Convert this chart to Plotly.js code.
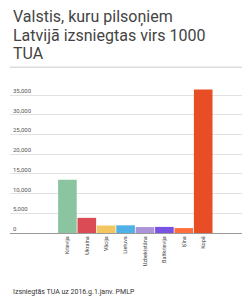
<!DOCTYPE html>
<html>
<head>
<meta charset="utf-8">
<script src="https://cdn.plot.ly/plotly-3.0.1.min.js"></script>
<style>
  html, body { margin: 0; padding: 0; background: #fff; }
  #chart { width: 250px; height: 300px; }
</style>
</head>
<body>
<div id="chart"></div>
<script>
// Countries whose citizens received more than 1000 residence permits (TUA)
const countries = ["Krievija", "Ukraina", "Vācija", "Lietuva", "Uzbekistāna", "Baltkrievija", "Ķīna", "Kopā"];
const permits = [13500, 3850, 1900, 1950, 1500, 1550, 1250, 36450];
const barColors = ["#8bc5a0", "#db4b55", "#f3c65f", "#4fb1e6", "#ab94d8", "#7752e3", "#ff6e3c", "#e84e25"];
const yTicks = [0, 5000, 10000, 15000, 20000, 25000, 30000, 35000];
const yTickText = ["0", "5,000", "10,000", "15,000", "20,000", "25,000", "30,000", "35,000"];

const titleLines = ["Valstis, kuru pilsoņiem", "Latvijā izsniegtas virs 1000", "TUA"];
const sourceNote = "Izsniegtās TUA uz 2016.g.1.janv. PMLP";

const W = 250, H = 300;
const margin = { l: 10, r: 8, t: 82, b: 67 };
const plotH = H - margin.t - margin.b;
// convert a pixel row of the page to a paper y coordinate
const py = y => (H - margin.b - y) / plotH;

const font = "Roboto, 'Open Sans', sans-serif";

const annotations = titleLines.map((line, i) => ({
  text: line,
  xref: "paper", yref: "paper",
  x: 0.004, y: py(17 + i * 18.3),
  xanchor: "left", yanchor: "middle",
  showarrow: false,
  font: { family: font, size: 16, color: "#444" }
}));
annotations.push({
  text: sourceNote,
  xref: "paper", yref: "paper",
  x: 0.004, y: py(292),
  xanchor: "left", yanchor: "middle",
  showarrow: false,
  font: { family: font, size: 7, color: "#333" }
});

const trace = {
  type: "bar",
  x: countries,
  y: permits,
  marker: { color: barColors, line: { width: 0 } },
  hoverinfo: "x+y"
};

const layout = {
  width: W, height: H,
  margin: margin,
  paper_bgcolor: "#fff",
  plot_bgcolor: "#fff",
  showlegend: false,
  bargap: 0.04,
  font: { family: font, color: "#444" },
  xaxis: {
    type: "category",
    range: [-2.96, 9.0],
    tickangle: -90,
    tickfont: { size: 5.5, color: "#444" },
    showgrid: false,
    showline: true,
    linecolor: "#999",
    linewidth: 1,
    ticks: "",
    ticklen: 0
  },
  yaxis: {
    range: [0, 38350],
    tickvals: yTicks,
    ticktext: yTickText,
    ticklabelposition: "inside top",
    tickfont: { size: 6, color: "#555" },
    showgrid: true,
    gridcolor: "#e2e2e2",
    gridwidth: 1,
    zeroline: false,
    showline: false,
    ticks: ""
  },
  shapes: [{
    type: "line",
    xref: "paper", yref: "paper",
    x0: 0, x1: 1,
    y0: py(67.3), y1: py(67.3),
    line: { color: "#dcdcdc", width: 1.5 }
  }],
  annotations: annotations
};

Plotly.newPlot("chart", [trace], layout, { displayModeBar: false, staticPlot: true });
</script>
</body>
</html>
